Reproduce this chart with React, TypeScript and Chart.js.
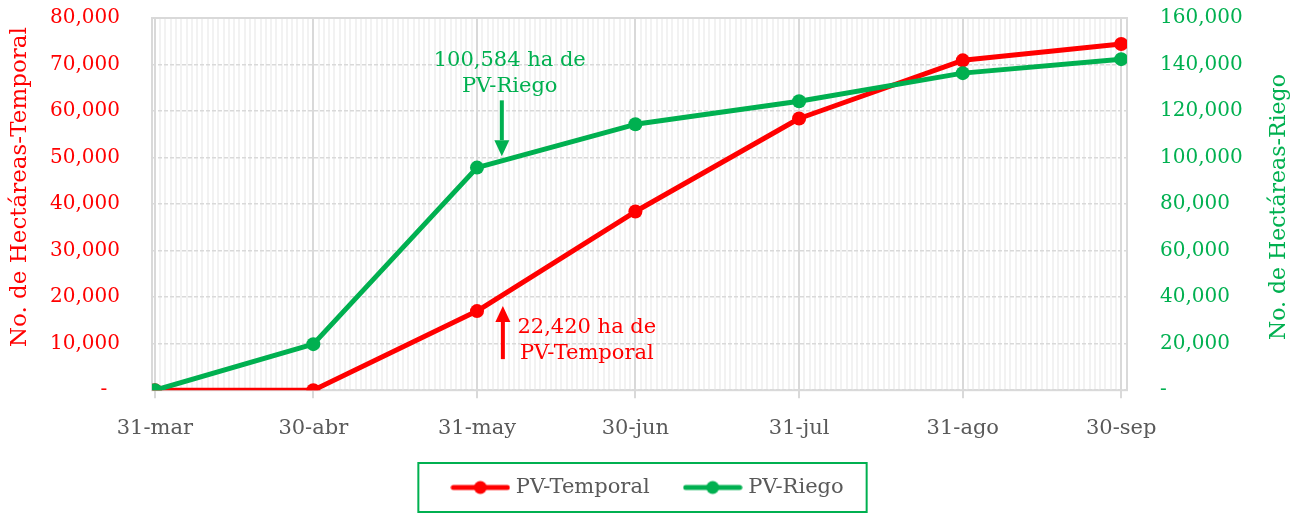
import React, { useEffect, useRef } from "react";
import { Chart, registerables } from "chart.js";

Chart.register(...registerables);

// ---- data ----
const dateLabels = ["31-mar", "30-abr", "31-may", "30-jun", "31-jul", "31-ago", "30-sep"];
const dayOffsets = [0, 30, 61, 91, 122, 153, 183];
const temporal = [0, 0, 17000, 38400, 58400, 70900, 74400];
const riego = [0, 19800, 95700, 114300, 124200, 136300, 142300];
const leftTicks = [0, 10000, 20000, 30000, 40000, 50000, 60000, 70000, 80000];
const rightTicks = [0, 20000, 40000, 60000, 80000, 100000, 120000, 140000, 160000];
const riegoNote = ["100,584 ha de", "PV-Riego"];
const temporalNote = ["22,420 ha de", "PV-Temporal"];

const RED = "#ff0000";
const GREEN = "#00b050";
const GRAY_TEXT = "#595959";
const FONT = "'DejaVu Serif', serif";

function legendImage(color: string): HTMLCanvasElement {
  const c = document.createElement("canvas");
  c.width = 60;
  c.height = 16;
  const g = c.getContext("2d")!;
  g.strokeStyle = color;
  g.lineWidth = 5;
  g.lineCap = "round";
  g.beginPath();
  g.moveTo(3, 8);
  g.lineTo(57, 8);
  g.stroke();
  g.fillStyle = color;
  g.beginPath();
  g.arc(30, 8, 6.5, 0, Math.PI * 2);
  g.fill();
  return c;
}

function drawArrow(ctx: CanvasRenderingContext2D, x: number, yFrom: number, yTip: number, color: string) {
  const dir = yTip > yFrom ? 1 : -1;
  const headLen = 16;
  const headW = 7.5;
  ctx.save();
  ctx.strokeStyle = color;
  ctx.fillStyle = color;
  ctx.lineWidth = 4;
  ctx.beginPath();
  ctx.moveTo(x, yFrom);
  ctx.lineTo(x, yTip - dir * headLen);
  ctx.stroke();
  ctx.beginPath();
  ctx.moveTo(x, yTip);
  ctx.lineTo(x - headW, yTip - dir * headLen);
  ctx.lineTo(x + headW, yTip - dir * headLen);
  ctx.closePath();
  ctx.fill();
  ctx.restore();
}

const overlayPlugin = {
  id: "overlay",
  beforeDatasetsDraw(chart: any) {
    const { ctx, chartArea } = chart;
    ctx.save();
    ctx.strokeStyle = "#d9d9d9";
    ctx.lineWidth = 2;
    ctx.strokeRect(chartArea.left, chartArea.top, chartArea.right - chartArea.left, chartArea.bottom - chartArea.top);
    ctx.restore();
  },
  afterDatasetsDraw(chart: any) {
    const { ctx } = chart;
    const xs = chart.scales.x;
    const yl = chart.scales.y;
    const yr = chart.scales.y1;
    ctx.save();
    ctx.font = `21px ${FONT}`;
    ctx.textAlign = "center";
    ctx.textBaseline = "middle";
    // Riego note
    ctx.fillStyle = GREEN;
    const gx = xs.getPixelForValue(67.2);
    const gy = yr.getPixelForValue(141900);
    riegoNote.forEach((t, i) => ctx.fillText(t, gx, gy + i * 26));
    drawArrow(ctx, xs.getPixelForValue(65.7), yr.getPixelForValue(124600), yr.getPixelForValue(100584), GREEN);
    // Temporal note
    ctx.fillStyle = RED;
    const rx = xs.getPixelForValue(81.8);
    const ry = yl.getPixelForValue(13370);
    temporalNote.forEach((t, i) => ctx.fillText(t, rx, ry + i * 26));
    drawArrow(ctx, xs.getPixelForValue(65.9), yl.getPixelForValue(6680), yl.getPixelForValue(18110), RED);
    ctx.restore();
  },
  afterDraw(chart: any) {
    const { ctx, chartArea } = chart;
    // axis titles (both read bottom-to-top)
    ctx.save();
    ctx.font = `23px ${FONT}`;
    ctx.textAlign = "center";
    ctx.textBaseline = "middle";
    const mid = (chartArea.top + chartArea.bottom) / 2;
    ctx.fillStyle = RED;
    ctx.translate(20, mid - 17);
    ctx.rotate(-Math.PI / 2);
    ctx.fillText("No. de Hectáreas-Temporal", 0, 0);
    ctx.restore();
    ctx.save();
    ctx.font = `22px ${FONT}`;
    ctx.textAlign = "center";
    ctx.textBaseline = "middle";
    ctx.fillStyle = GREEN;
    ctx.translate(1279, mid + 3);
    ctx.rotate(-Math.PI / 2);
    ctx.fillText("No. de Hectáreas-Riego", 0, 0);
    ctx.restore();
    // legend frame
    const boxes = chart.legend && chart.legend.legendHitBoxes;
    if (boxes && boxes.length) {
      let l = Infinity, r = -Infinity, t = Infinity, b = -Infinity;
      boxes.forEach((h: any) => {
        l = Math.min(l, h.left);
        r = Math.max(r, h.left + h.width);
        t = Math.min(t, h.top);
        b = Math.max(b, h.top + h.height);
      });
      ctx.save();
      ctx.strokeStyle = GREEN;
      ctx.lineWidth = 2;
      ctx.strokeRect(l - 37, t - 14, r - l + 37 + 23, b - t + 28);
      ctx.restore();
    }
  },
};

export default function App() {
  const ref = useRef<HTMLCanvasElement>(null);
  useEffect(() => {
    document.body.style.margin = "0";
    const isMajor = (v: number) => dayOffsets.includes(v);
    const allDays: number[] = [];
    for (let d = 0; d <= dayOffsets[dayOffsets.length - 1]; d++) allDays.push(d);
    const imgRed = legendImage(RED);
    const imgGreen = legendImage(GREEN);
    const chart = new Chart(ref.current!, {
      type: "line",
      data: {
        datasets: [
          {
            label: "PV-Temporal",
            data: dayOffsets.map((d, i) => ({ x: d, y: temporal[i] })),
            yAxisID: "y",
            borderColor: RED,
            backgroundColor: RED,
            borderWidth: 5,
            pointRadius: 7,
            pointBackgroundColor: RED,
            pointBorderWidth: 0,
            borderCapStyle: "round",
            borderJoinStyle: "round",
            order: 2,
          } as any,
          {
            label: "PV-Riego",
            data: dayOffsets.map((d, i) => ({ x: d, y: riego[i] })),
            yAxisID: "y1",
            borderColor: GREEN,
            backgroundColor: GREEN,
            borderWidth: 5,
            pointRadius: 7,
            pointBackgroundColor: GREEN,
            pointBorderWidth: 0,
            borderCapStyle: "round",
            borderJoinStyle: "round",
            order: 1,
          } as any,
        ],
      },
      options: {
        animation: false,
        responsive: false,
        layout: { padding: { top: 18, bottom: 6, left: 0, right: 0 } },
        elements: { point: { pointStyle: "circle" } },
        scales: {
          x: {
            type: "linear",
            min: -0.55,
            max: 184.1,
            afterBuildTicks: (s: any) => {
              s.ticks = allDays.map((v) => ({ value: v }));
            },
            afterFit: (s: any) => {
              s.height = 48.8;
            },
            ticks: {
              autoSkip: false,
              maxRotation: 0,
              padding: 18,
              color: GRAY_TEXT,
              font: { family: FONT, size: 21 },
              callback: (v: any) => {
                const i = dayOffsets.indexOf(Number(v));
                return i >= 0 ? dateLabels[i] : "";
              },
            },
            grid: {
              color: (c: any) => (isMajor(c.tick?.value) ? "#d9d9d9" : "#f2f2f2"),
              lineWidth: 2,
              tickColor: (c: any) => (isMajor(c.tick?.value) ? "#d9d9d9" : "rgba(0,0,0,0)"),
              tickLength: 8,
              drawTicks: true,
            },
            border: { display: false },
          },
          y: {
            type: "linear",
            position: "left",
            min: 0,
            max: 80000,
            afterBuildTicks: (s: any) => {
              s.ticks = leftTicks.map((v) => ({ value: v }));
            },
            afterFit: (s: any) => {
              s.width = 152;
            },
            ticks: {
              padding: 0,
              color: RED,
              font: { family: FONT, size: 20 },
              callback: (v: any) => (Number(v) === 0 ? "-  " : Number(v).toLocaleString("en-US")),
            },
            grid: {
              color: "#d9d9d9",
              lineWidth: 1.5,
              drawTicks: true,
              tickLength: 32,
              tickColor: "rgba(0,0,0,0)",
            },
            border: { display: false, dash: [4, 2] },
          },
          y1: {
            type: "linear",
            position: "right",
            min: 0,
            max: 160000,
            afterBuildTicks: (s: any) => {
              s.ticks = rightTicks.map((v) => ({ value: v }));
            },
            afterFit: (s: any) => {
              s.width = 172;
            },
            ticks: {
              padding: 0,
              color: GREEN,
              font: { family: FONT, size: 20 },
              callback: (v: any) => (Number(v) === 0 ? "-" : Number(v).toLocaleString("en-US")),
            },
            grid: {
              drawOnChartArea: false,
              drawTicks: true,
              tickLength: 33,
              tickColor: "rgba(0,0,0,0)",
            },
            border: { display: false },
          },
        },
        plugins: {
          legend: {
            position: "bottom",
            labels: {
              usePointStyle: true,
              pointStyleWidth: 50,
              padding: 38,
              color: GRAY_TEXT,
              font: { family: FONT, size: 21 },
              sort: (a: any, b: any) => a.datasetIndex - b.datasetIndex,
              generateLabels: (ch: any) =>
                ch.data.datasets.map((ds: any, i: number) => ({
                  text: ds.label,
                  datasetIndex: i,
                  pointStyle: i === 0 ? imgRed : imgGreen,
                  fillStyle: ds.borderColor,
                  strokeStyle: ds.borderColor,
                  lineWidth: 0,
                  hidden: false,
                  fontColor: GRAY_TEXT,
                })),
            },
          },
          tooltip: { enabled: false },
        },
      } as any,
      plugins: [overlayPlugin],
    });
    return () => chart.destroy();
  }, []);
  return (
    <div style={{ width: 1299, height: 514 }}>
      <canvas ref={ref} width={1299} height={514} style={{ display: "block" }} />
    </div>
  );
}
